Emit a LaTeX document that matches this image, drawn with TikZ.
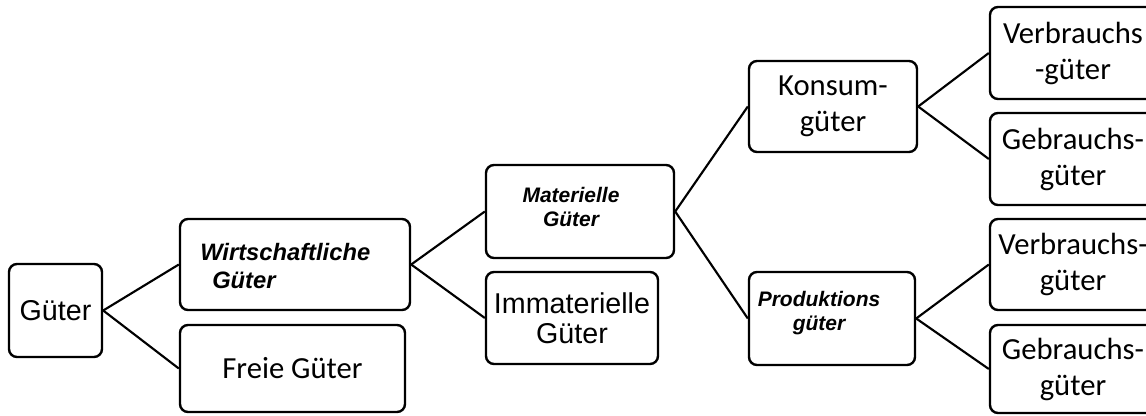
\documentclass[tikz,border=0pt]{standalone}
\usepackage{fontspec}
\setmainfont{Liberation Sans}
\newfontfamily\calfont{Carlito}
\begin{document}
\begin{tikzpicture}[x=0.75pt,y=-0.75pt,
  box/.style={draw, line width=1.8pt, rounded corners=6pt, inner sep=0pt, align=center},
  conn/.style={line width=1.6pt},
  arialbig/.style={font=\fontsize{21.5pt}{22.5pt}\selectfont},
  calbig/.style={font=\calfont\fontsize{23pt}{27pt}\selectfont},
  boldit/.style={font=\bfseries\itshape\fontsize{15.75pt}{18pt}\selectfont, align=center, inner sep=0pt},
  bolditbig/.style={font=\bfseries\itshape\fontsize{17.8pt}{21pt}\selectfont, align=left, inner sep=0pt, anchor=west}
]
\useasboundingbox (0,0) rectangle (1146,415);
\clip (0,0) rectangle (1146,415);

% boxes
\node[box, arialbig, minimum width=93*0.75pt, minimum height=93*0.75pt] (gut) at (55.5,310.5) {Güter};
\node[box, minimum width=230*0.75pt, minimum height=91*0.75pt] (wirt) at (295,264.5) {};
\node[box, calbig, minimum width=225*0.75pt, minimum height=87*0.75pt] (frei) at (292.5,368.5) {Freie Güter};
\node[box, minimum width=188*0.75pt, minimum height=93*0.75pt] (mat) at (580,211.5) {};
\node[box, arialbig, minimum width=172*0.75pt, minimum height=92*0.75pt] (imm) at (572,318) {Immaterielle\\Güter};
\node[box, calbig, minimum width=168*0.75pt, minimum height=91*0.75pt] (kon) at (833,106.5) {Konsum-\\güter};
\node[box, minimum width=166*0.75pt, minimum height=93*0.75pt] (prod) at (832,318.5) {};
\node[box, calbig, minimum width=166*0.75pt, minimum height=92*0.75pt] (v1) at (1073,53) {Verbrauchs\\-güter};
\node[box, calbig, minimum width=166*0.75pt, minimum height=92*0.75pt] (g1) at (1073,159) {Gebrauchs-\\güter};
\node[box, calbig, minimum width=166*0.75pt, minimum height=91*0.75pt] (v2) at (1073,264.5) {Verbrauchs-\\güter};
\node[box, calbig, minimum width=166*0.75pt, minimum height=88*0.75pt] (g2) at (1073,369) {Gebrauchs-\\güter};

% off-centre texts
\node[bolditbig] (wirtT) at (200,266) {Wirtschaftliche\\\hspace*{9pt}Güter};
\node[boldit] (matT) at (571,207) {Materielle\\Güter};
\node[boldit] (prodT) at (819,313) {Produktions\\güter};

% connectors
\draw[conn] (gut.east) -- (wirt.west);
\draw[conn] (gut.east) -- (frei.west);
\draw[conn] (wirt.east) -- (mat.west);
\draw[conn] (wirt.east) -- (imm.west);
\draw[conn] (mat.east) -- (kon.west);
\draw[conn] (mat.east) -- (prod.west);
\draw[conn] (kon.east) -- (v1.west);
\draw[conn] (kon.east) -- (g1.west);
\draw[conn] (prod.east) -- (v2.west);
\draw[conn] (prod.east) -- (g2.west);
\end{tikzpicture}
\end{document}
